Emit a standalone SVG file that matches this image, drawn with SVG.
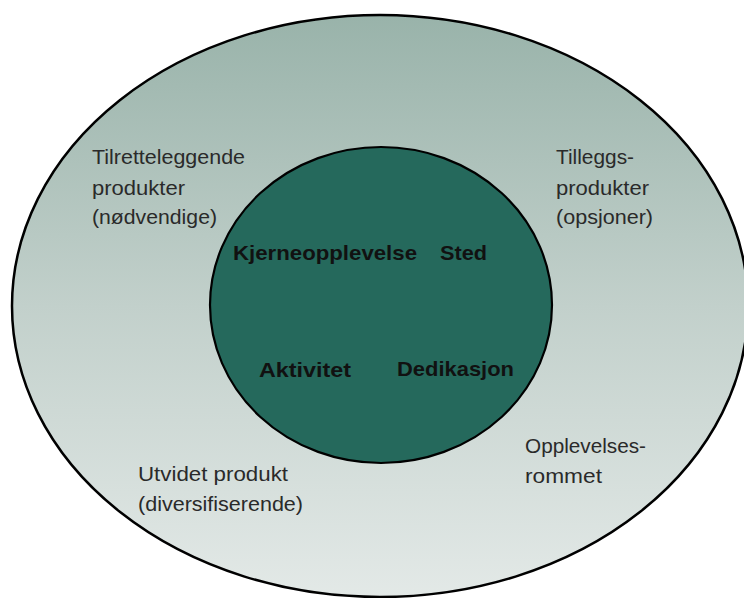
<svg xmlns="http://www.w3.org/2000/svg" width="744" height="598" viewBox="0 0 744 598">
  <defs>
    <linearGradient id="outerGrad" x1="0" y1="0" x2="0" y2="1">
      <stop offset="0" stop-color="#99b3aa"/>
      <stop offset="0.5" stop-color="#c2d0cb"/>
      <stop offset="1" stop-color="#e3e9e7"/>
    </linearGradient>
  </defs>
  <style>
    .lbl { font-family: "Liberation Sans", Arial, sans-serif; font-size: 20px; fill: #2a2a2a; }
    .core { font-family: "Liberation Sans", Arial, sans-serif; font-size: 21px; font-weight: bold; fill: #111111; }
  </style>
  <rect width="744" height="598" fill="#ffffff"/>
  <g id="outer">
    <ellipse cx="380" cy="306" rx="368" ry="291" fill="url(#outerGrad)" stroke="#000" stroke-width="2.5"/>
    <text class="lbl" x="92" y="164" textLength="153" lengthAdjust="spacingAndGlyphs">Tilretteleggende</text>
    <text class="lbl" x="92" y="195" textLength="93" lengthAdjust="spacingAndGlyphs">produkter</text>
    <text class="lbl" x="92" y="224" textLength="125" lengthAdjust="spacingAndGlyphs">(nødvendige)</text>
    <text class="lbl" x="556" y="164" textLength="78" lengthAdjust="spacingAndGlyphs">Tilleggs-</text>
    <text class="lbl" x="556" y="195" textLength="93" lengthAdjust="spacingAndGlyphs">produkter</text>
    <text class="lbl" x="556" y="224" textLength="97" lengthAdjust="spacingAndGlyphs">(opsjoner)</text>
    <text class="lbl" x="525" y="453" textLength="121" lengthAdjust="spacingAndGlyphs">Opplevelses-</text>
    <text class="lbl" x="525" y="483" textLength="77" lengthAdjust="spacingAndGlyphs">rommet</text>
    <text class="lbl" x="138" y="481" textLength="150" lengthAdjust="spacingAndGlyphs">Utvidet produkt</text>
    <text class="lbl" x="138" y="511" textLength="165" lengthAdjust="spacingAndGlyphs">(diversifiserende)</text>
  </g>
  <g id="core">
    <ellipse cx="381" cy="305" rx="171" ry="158" fill="#25695c" stroke="#000" stroke-width="2.2"/>
    <text class="core" x="233" y="260" textLength="184" lengthAdjust="spacingAndGlyphs">Kjerneopplevelse</text>
    <text class="core" x="440" y="260" textLength="47" lengthAdjust="spacingAndGlyphs">Sted</text>
    <text class="core" x="259" y="377" textLength="92" lengthAdjust="spacingAndGlyphs">Aktivitet</text>
    <text class="core" x="397" y="376" textLength="117" lengthAdjust="spacingAndGlyphs">Dedikasjon</text>
  </g>
  <g id="connectors"/>
</svg>
